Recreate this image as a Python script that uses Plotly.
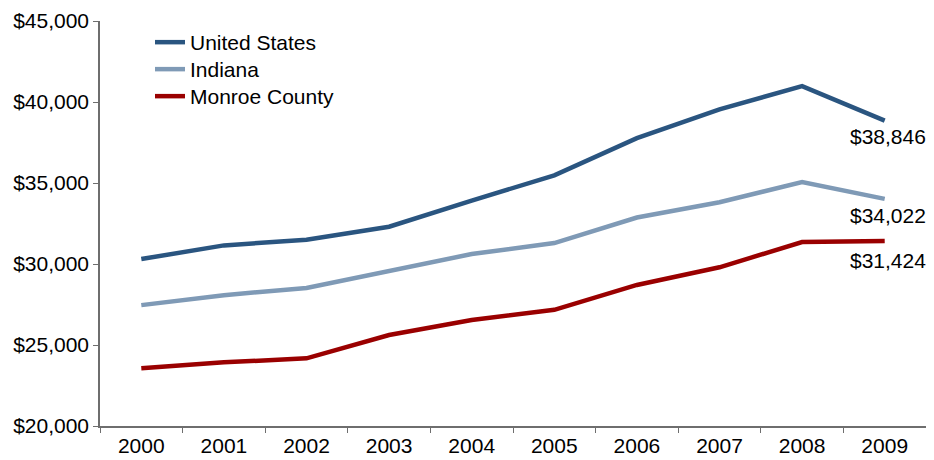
import plotly.graph_objects as go

years = ["2000", "2001", "2002", "2003", "2004", "2005", "2006", "2007", "2008", "2009"]
us = [30307, 31149, 31500, 32300, 33915, 35470, 37766, 39548, 40984, 38846]
indiana = [27462, 28076, 28525, 29551, 30615, 31290, 32870, 33810, 35060, 34022]
monroe = [23562, 23930, 24176, 25615, 26537, 27170, 28706, 29797, 31352, 31424]
y_ticks = [20000, 25000, 30000, 35000, 40000, 45000]
y_tick_labels = ["$20,000", "$25,000", "$30,000", "$35,000", "$40,000", "$45,000"]

series = [
    ("United States", us, "#2A5580"),
    ("Indiana", indiana, "#7F9AB6"),
    ("Monroe County", monroe, "#9A0000"),
]
legend_ids = ["legend", "legend2", "legend3"]
legend_y = [0.9975, 0.9309, 0.8642]
label_shift = [-16, -17, -20]

FONT = "Liberation Sans, Arial, sans-serif"
FS = 21

fig = go.Figure()
for (name, vals, color), lid in zip(series, legend_ids):
    fig.add_trace(go.Scatter(
        x=years, y=vals, name=name, mode="lines",
        line=dict(color=color, width=4.5), legend=lid,
    ))

last_idx = len(years) - 1
annos = []
for (name, vals, color), ys in zip(series, label_shift):
    annos.append(dict(
        x=last_idx, y=vals[-1], xref="x", yref="y",
        text="${:,}".format(vals[-1]), showarrow=False,
        yshift=ys, xshift=3,
        font=dict(family=FONT, size=FS, color="#000000"),
    ))

legend_common = dict(
    x=0.0605, xanchor="left", yanchor="top",
    bgcolor="rgba(0,0,0,0)", font=dict(family=FONT, size=FS),
    itemwidth=30,
)

fig.update_layout(
    width=918, height=452,
    margin=dict(l=92, r=0, t=13, b=34, autoexpand=False),
    paper_bgcolor="white", plot_bgcolor="white",
    font=dict(family=FONT, size=FS, color="#000000"),
    showlegend=True,
    legend=dict(y=legend_y[0], **legend_common),
    legend2=dict(y=legend_y[1], **legend_common),
    legend3=dict(y=legend_y[2], **legend_common),
    annotations=annos,
    xaxis=dict(
        type="category", range=[-0.5, len(years) - 0.5], showgrid=False, zeroline=False,
        showline=True, linecolor="#6E6E6E", linewidth=1.5,
        ticks="outside", tickson="boundaries", ticklen=5, tickcolor="#6E6E6E",
        tickfont=dict(family=FONT, size=FS), tickangle=0,
    ),
    yaxis=dict(
        range=[20000, 45000], tickvals=y_ticks, ticktext=y_tick_labels,
        showgrid=False, zeroline=False,
        showline=True, linecolor="#6E6E6E", linewidth=1.5,
        ticks="outside", ticklen=5, tickcolor="#6E6E6E",
        tickfont=dict(family=FONT, size=FS),
    ),
)

fig.write_html("out.html")
